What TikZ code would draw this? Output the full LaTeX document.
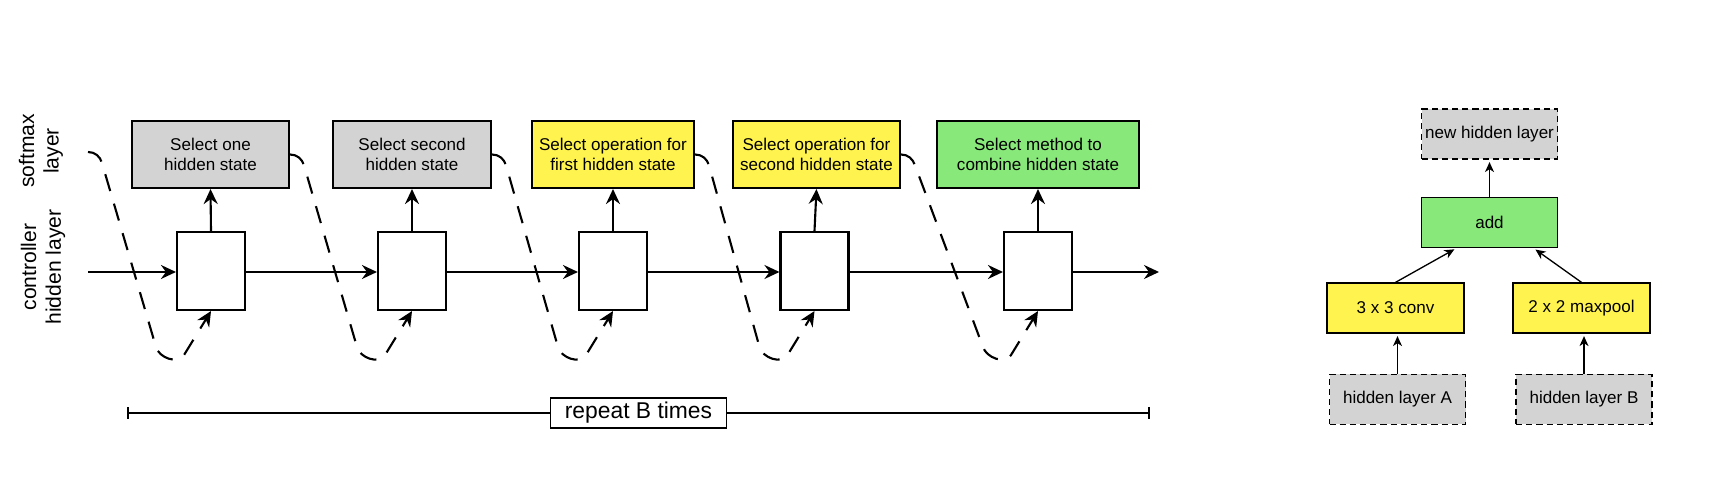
\documentclass[tikz,border=0pt]{standalone}
\usepackage{fontspec}
\setmainfont{Liberation Sans}
\usetikzlibrary{arrows.meta,calc}

\definecolor{selgrey}{HTML}{D3D3D3}
\definecolor{opyellow}{HTML}{FFF44F}
\definecolor{combgreen}{HTML}{88E87A}

\tikzset{
  softbox/.style={draw, line width=1.2pt, minimum height=1.34cm, align=center, inner sep=0pt,
    font=\fontsize{9.7pt}{11.4pt}\selectfont},
  ctrlbox/.style={draw, line width=1.2pt, fill=white, minimum width=1.36cm, minimum height=1.56cm, inner sep=0pt},
  flow/.style={line width=1.2pt, -{Stealth[length=0.3cm,width=0.28cm,inset=0.1cm]}},
  feedback/.style={flow, dash pattern=on 10pt off 7.5pt},
  layerbox/.style={draw, line width=0.7pt, minimum width=2.72cm, minimum height=1cm, inner sep=0pt,
    font=\fontsize{9.7pt}{11.4pt}\selectfont},
  dashbox/.style={layerbox, fill=selgrey, dash pattern=on 3.5pt off 2.3pt},
  smallflow/.style={line width=0.75pt, -{Stealth[length=0.2cm,width=0.18cm,inset=0.06cm]}, shorten >=0.05cm},
  sidelabel/.style={rotate=90, align=center, font=\fontsize{12pt}{14pt}\selectfont}
}

\begin{document}
\begin{tikzpicture}
            \useasboundingbox (0,0) rectangle (34.28,9.56);
            % row labels
            \node [sidelabel] (lsoft) at (0.82,6.54) {softmax\\layer};
            \node [sidelabel] (lctrl) at (0.86,4.22) {controller\\hidden layer};
            % softmax layer
            \node [softbox, fill=selgrey, minimum width=3.14cm] (s1) at (4.21,6.47) {Select one\\hidden state};
            \node [softbox, fill=selgrey, minimum width=3.16cm] (s2) at (8.24,6.47) {Select second\\hidden state};
            \node [softbox, fill=opyellow, minimum width=3.24cm] (s3) at (12.26,6.47) {Select operation for\\first hidden state};
            \node [softbox, fill=opyellow, minimum width=3.34cm] (s4) at (16.33,6.47) {Select operation for\\second hidden state};
            \node [softbox, fill=combgreen, minimum width=4.04cm] (s5) at (20.76,6.47) {Select method to\\combine hidden state};
            % controller cells
            \node [ctrlbox] (c1) at (4.22,4.14) {};
            \node [ctrlbox] (c2) at (8.24,4.14) {};
            \node [ctrlbox] (c3) at (12.26,4.14) {};
            \node [ctrlbox] (c4) at (16.29,4.14) {};
            \node [ctrlbox] (c5) at (20.76,4.14) {};
            \coordinate (in) at (1.76,4.12);
            \coordinate (out) at (23.18,4.12);
            \coordinate (fb0) at (1.76,6.52);
            % hidden state chain
            \draw [flow] (in) -- (in -| c1.west);
            \draw [flow] (c1.east |- in) -- (in -| c2.west);
            \draw [flow] (c2.east |- in) -- (in -| c3.west);
            \draw [flow] (c3.east |- in) -- (in -| c4.west);
            \draw [flow] (c4.east |- in) -- (in -| c5.west);
            \draw [flow] (c5.east |- in) -- (out);
            % cell to softmax
            \draw [flow] (c1.north) -- (s1.south);
            \draw [flow] (c2.north) -- (s2.south);
            \draw [flow] (c3.north) -- (s3.south);
            \draw [flow] (c4.north) -- (s4.south);
            \draw [flow] (c5.north) -- (s5.south);
            % sampled choice fed back
            \draw [feedback] (fb0) to[out=0,in=106] ++(0.28,-0.22) -- ($(c1.south)+(-1.1,-0.72)$)
                to[out=-74,in=-122] ($(c1.south)+(-0.54,-0.88)$) -- (c1.south);
            \draw [feedback] (s1.east) to[out=0,in=106] ++(0.28,-0.22) -- ($(c2.south)+(-1.1,-0.72)$)
                to[out=-74,in=-122] ($(c2.south)+(-0.54,-0.88)$) -- (c2.south);
            \draw [feedback] (s2.east) to[out=0,in=106] ++(0.28,-0.22) -- ($(c3.south)+(-1.1,-0.72)$)
                to[out=-74,in=-122] ($(c3.south)+(-0.54,-0.88)$) -- (c3.south);
            \draw [feedback] (s3.east) to[out=0,in=106] ++(0.28,-0.22) -- ($(c4.south)+(-1.1,-0.72)$)
                to[out=-74,in=-122] ($(c4.south)+(-0.54,-0.88)$) -- (c4.south);
            \draw [feedback] (s4.east) to[out=0,in=108] ++(0.28,-0.22) -- ($(c5.south)+(-1.1,-0.72)$)
                to[out=-72,in=-122] ($(c5.south)+(-0.54,-0.88)$) -- (c5.south);
            % repeat bar
            \coordinate (repl) at (2.54,1.3);
            \coordinate (repr) at (23.0,1.3);
            \draw [line width=1.2pt, {Bar[width=0.24cm]}-{Bar[width=0.24cm]}] (repl) -- node [draw, fill=white, line width=0.7pt,
                minimum width=3.52cm, minimum height=0.6cm, inner sep=0pt, font=\fontsize{13pt}{15pt}\selectfont] (rep) {repeat B times} (repr);
            % combined cell
            \node [dashbox] (newh) at (29.79,6.88) {new hidden layer};
            \node [layerbox, fill=combgreen] (add) at (29.79,5.11) {add};
            \node [layerbox, fill=opyellow, minimum width=2.74cm] (conv) at (27.91,3.40) {3 x 3 conv};
            \node [layerbox, fill=opyellow, minimum width=2.74cm] (pool) at (31.63,3.40) {2 x 2 maxpool};
            \node [dashbox] (ha) at (27.95,1.57) {hidden layer A};
            \node [dashbox] (hb) at (31.68,1.57) {hidden layer B};
            \draw [smallflow] (add.north) -- (newh.south);
            \draw [smallflow] (conv.north) -- ($(add.south west)!0.26!(add.south east)$);
            \draw [smallflow] (pool.north) -- ($(add.south west)!0.82!(add.south east)$);
            \draw [smallflow] (ha.north) -- (ha.north |- conv.south);
            \draw [smallflow] (hb.north) -- (hb.north |- pool.south);
        \end{tikzpicture}
\end{document}
